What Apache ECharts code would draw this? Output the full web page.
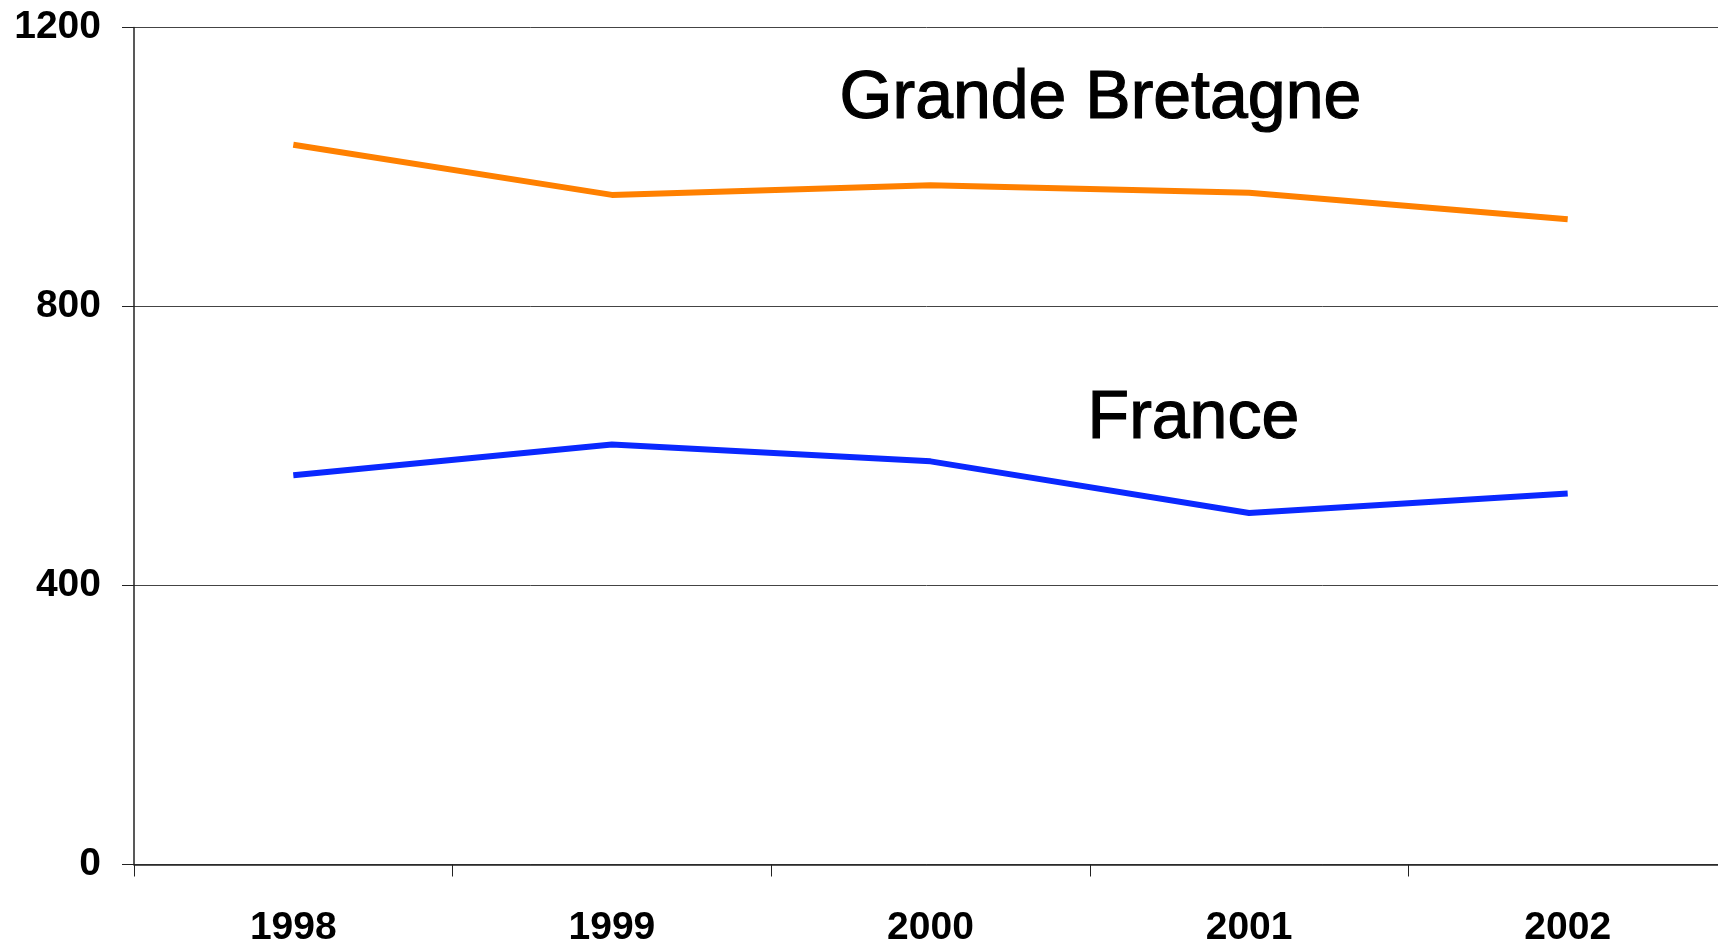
<!DOCTYPE html>
<html>
<head>
<meta charset="utf-8">
<style>
    html, body { margin: 0; padding: 0; background: #fff; }
    #chart { width: 1718px; height: 943px; }
</style>
<script src="https://cdn.jsdelivr.net/npm/echarts@6/dist/echarts.min.js"></script>
</head>
<body>
<div id="chart"></div>
<script>
const years = ['1998', '1999', '2000', '2001', '2002']
const grandeBretagne = [1032, 960, 974, 963, 925]
const france = [558, 602, 578, 504, 532]
const yTicks = [0, 400, 800, 1200]

const myChart = echarts.init(document.getElementById('chart'))
const font = '"Liberation Sans", Arial, sans-serif'
const axisColor = '#222'

const option = {
    animation: false,
    backgroundColor: '#fff',
    grid: {
        left: 134,
        width: 1593,
        top: 27.5,
        bottom: 78.5,
        containLabel: false,
        outerBoundsMode: 'none'
    },
    xAxis: {
        type: 'category',
        data: years,
        boundaryGap: true,
        axisLine: { lineStyle: { color: axisColor, width: 1.5 } },
        axisTick: { show: true, length: 12, inside: false, lineStyle: { color: axisColor, width: 1 } },
        axisLabel: {
            margin: 44,
            color: '#000',
            fontFamily: font,
            fontWeight: 'bold',
            fontSize: 39
        },
        splitLine: { show: false }
    },
    yAxis: {
        type: 'value',
        min: yTicks[0],
        max: yTicks[yTicks.length - 1],
        interval: yTicks[1] - yTicks[0],
        axisLine: { show: true, lineStyle: { color: axisColor, width: 1.5 } },
        axisTick: { show: true, length: 12, lineStyle: { color: axisColor, width: 1 } },
        axisLabel: {
            margin: 33,
            color: '#000',
            fontFamily: font,
            fontWeight: 'bold',
            fontSize: 39,
            padding: [4, 0, 0, 0],
            formatter: v => String(v)
        },
        splitLine: { show: true, lineStyle: { color: '#444', width: 1 } }
    },
    series: [
        {
            name: 'Grande Bretagne',
            type: 'line',
            data: grandeBretagne,
            symbol: 'none',
            lineStyle: { color: '#FF8000', width: 6 }
        },
        {
            name: 'France',
            type: 'line',
            data: france,
            symbol: 'none',
            lineStyle: { color: '#0A28FF', width: 6 }
        }
    ],
    graphic: [
        {
            type: 'text',
            left: 839,
            top: 65,
            style: {
                text: 'Grande Bretagne',
                fill: '#000',
                stroke: '#000',
                lineWidth: 1.2,
                font: '68px ' + font
            }
        },
        {
            type: 'text',
            left: 1087,
            top: 385,
            style: {
                text: 'France',
                fill: '#000',
                stroke: '#000',
                lineWidth: 1.2,
                font: '68px ' + font
            }
        }
    ]
}

myChart.setOption(option)
</script>
</body>
</html>
